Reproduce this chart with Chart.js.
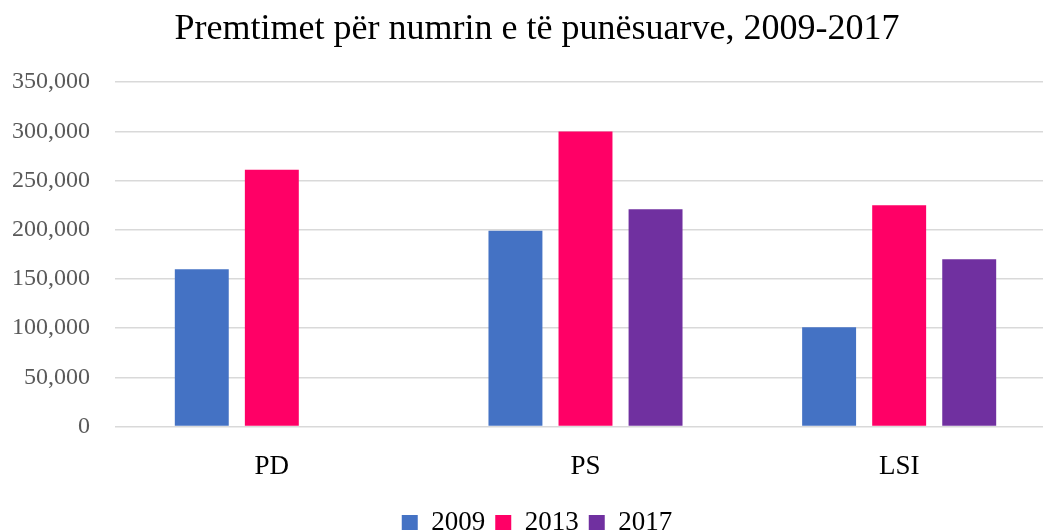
<!DOCTYPE html>
<html>
<head>
<meta charset="utf-8">
<script src="https://cdn.jsdelivr.net/npm/chart.js@4"></script>
<style>
  html, body { margin: 0; padding: 0; background: #fff; overflow: hidden; }
  #wrap { width: 1075px; height: 531px; }
</style>
</head>
<body>
<div id="wrap"><canvas id="myChart"></canvas></div>
<script>
const parties = ['PD', 'PS', 'LSI']
const years = ['2009', '2013', '2017']
const v2009 = [160000, 199000, 101000]
const v2013 = [261000, 300000, 225000]
const v2017 = [null, 221000, 170000]
const yTicks = [0, 50000, 100000, 150000, 200000, 250000, 300000, 350000]

const colors = ['#4472C4', '#FF0066', '#7030A0']
const font = '"Liberation Serif", "DejaVu Serif", serif'

const ctx = document.getElementById('myChart').getContext('2d');
new Chart(ctx, {
    type: 'bar',
    data: {
        labels: parties,
        datasets: [v2009, v2013, v2017].map((d, i) => ({
            label: years[i],
            data: d,
            backgroundColor: colors[i],
            borderWidth: 0,
            categoryPercentage: 0.67,
            barPercentage: 0.77
        }))
    },
    options: {
        responsive: true,
        maintainAspectRatio: false,
        animation: false,
        layout: { padding: { left: 0, right: 1, top: 8, bottom: -15 } },
        plugins: {
            title: {
                display: true,
                text: 'Premtimet për numrin e të punësuarve, 2009-2017',
                color: '#000',
                font: { family: font, size: 36, weight: 'normal' },
                padding: { top: 0, bottom: 31 }
            },
            legend: {
                position: 'bottom',
                labels: {
                    color: '#000',
                    font: { family: font, size: 27 },
                    boxWidth: 16,
                    boxHeight: 15,
                    padding: 10
                }
            },
            tooltip: { enabled: false }
        },
        scales: {
            x: {
                grid: { display: false },
                border: { display: false },
                ticks: { color: '#000', font: { family: font, size: 27 }, padding: 16 }
            },
            y: {
                min: 0,
                max: 350000,
                afterBuildTicks: s => { s.ticks = yTicks.map(v => ({ value: v })) },
                afterFit: s => { s.width = 115 },
                grid: { color: '#d9d9d9', lineWidth: 1.5, drawTicks: false },
                border: { display: false },
                ticks: {
                    color: '#595959',
                    font: { family: font, size: 24 },
                    padding: 25,
                    callback: v => v.toLocaleString('en-US')
                }
            },
            // empty right-hand axis, only reserves space so the plot ends past the cropped edge
            yRight: {
                position: 'right',
                afterFit: s => { s.width = 18 },
                grid: { display: false },
                border: { display: false },
                ticks: { display: false }
            }
        }
    }
});
</script>
</body>
</html>
